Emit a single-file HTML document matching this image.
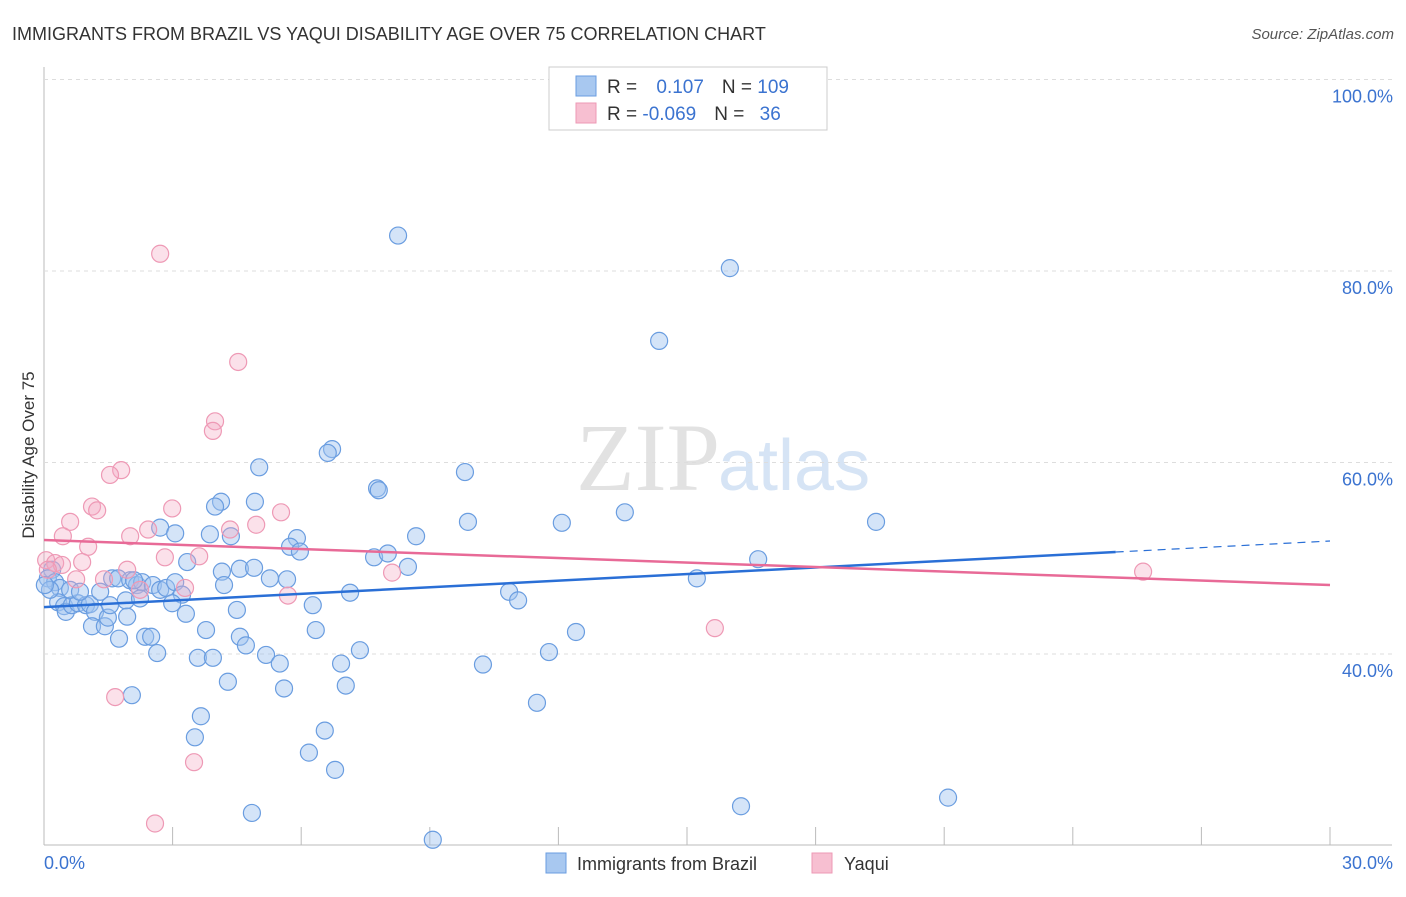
<!DOCTYPE html>
<html><head><meta charset="utf-8"><style>
body{margin:0;background:#fff;font-family:"Liberation Sans",sans-serif}
</style></head><body>
<svg id="c" width="1406" height="892" xmlns="http://www.w3.org/2000/svg">
<text x="12" y="40" font-size="18" fill="#333">IMMIGRANTS FROM BRAZIL VS YAQUI DISABILITY AGE OVER 75 CORRELATION CHART</text>
<text x="1394" y="39" font-size="15" fill="#555" font-style="italic" text-anchor="end">Source: ZipAtlas.com</text>
<text x="720" y="490" font-size="96" fill="#e2e2e2" text-anchor="end" font-family="Liberation Serif,serif">ZIP</text>
<text x="718" y="490" font-size="72" fill="#d6e4f5">atlas</text>
<text transform="translate(34,455) rotate(-90)" font-size="17" fill="#333" text-anchor="middle">Disability Age Over 75</text>
<g id="grid"></g><g id="pts"></g><g id="lines"></g>
<g>
<rect x="549" y="67" width="278" height="63" fill="#fff" stroke="#ccc"/>
<rect x="576" y="76" width="20" height="20" fill="#a8c8f0" stroke="#6a9de0"/>
<rect x="576" y="103" width="20" height="20" fill="#f7bfd1" stroke="#ee99b5"/>
<text x="607" y="93" font-size="19" fill="#333">R = <tspan fill="#3b73d0" dx="14">0.107</tspan><tspan fill="#333" dx="18">N = </tspan><tspan fill="#3b73d0">109</tspan></text>
<text x="607" y="120" font-size="19" fill="#333">R = <tspan fill="#3b73d0">-0.069</tspan><tspan fill="#333" dx="18">N = </tspan><tspan fill="#3b73d0" dx="10">36</tspan></text>
</g>
<g>
<rect x="546" y="853" width="20" height="20" fill="#a8c8f0" stroke="#6a9de0"/>
<text x="577" y="870" font-size="18" fill="#333">Immigrants from Brazil</text>
<rect x="812" y="853" width="20" height="20" fill="#f7bfd1" stroke="#ee99b5"/>
<text x="844" y="870" font-size="18" fill="#333">Yaqui</text>
</g>
</svg>
<script>
const yTicks=[40,60,80,100];
const xTickVals=[0,3,6,9,12,15,18,21,24,27,30];
const xLabels=["0.0%","30.0%"];
const blueX=[8.26,16.0,14.35,6.72,6.62,5.02,9.82,7.77,7.81,4.13,3.99,4.92,13.55,9.89,12.08,19.41,2.71,3.06,3.87,4.36,5.9,8.68,5.74,5.97,7.7,8.02,16.66,3.34,8.49,4.15,4.57,4.9,5.27,5.67,15.23,0.19,0.09,0.26,0.37,0.33,0.47,0.51,0.65,0.79,0.98,1.07,1.19,1.12,1.42,1.49,1.59,1.73,1.91,1.94,2.01,2.17,2.29,2.54,2.71,2.85,3.06,3.22,2.99,3.31,3.78,1.75,2.36,2.5,2.64,3.59,3.94,4.5,4.2,4.57,4.71,5.18,5.5,4.29,2.05,5.6,6.27,6.34,7.14,7.37,6.93,7.04,6.55,6.18,6.79,3.66,3.52,4.85,9.07,10.24,11.5,11.78,12.41,10.85,11.06,16.26,21.09,2.1,1.31,0.61,0.84,1.54,2.24,0.14,0.02];
const blueY=[83.7,80.3,72.7,61.4,61.0,59.5,59.0,57.3,57.1,55.9,55.4,55.9,54.8,53.8,53.7,53.8,53.2,52.6,52.5,52.3,52.1,52.3,51.2,50.7,50.1,50.5,49.9,49.6,49.1,48.6,48.9,49.0,47.9,47.8,47.9,48.8,47.9,47.5,46.9,45.4,45.0,44.4,45.1,45.3,45.1,45.2,44.4,42.9,42.9,43.8,47.9,47.9,45.6,43.9,47.7,47.2,47.5,47.2,46.7,46.9,47.5,46.2,45.3,44.2,42.5,41.6,41.8,41.8,40.1,39.6,39.6,44.6,47.2,41.8,40.9,39.9,39.0,37.1,35.7,36.4,45.1,42.5,46.4,40.4,39.0,36.7,32.0,29.7,27.9,33.5,31.3,23.4,20.6,38.9,34.9,40.2,42.3,46.5,45.6,24.1,25.0,47.7,46.5,46.7,46.5,45.1,45.8,46.7,47.2];
const pinkX=[2.71,4.53,3.99,3.94,1.8,1.54,1.12,1.24,0.61,2.99,5.53,4.95,4.34,2.43,2.01,0.44,1.03,3.62,2.82,0.05,0.26,0.42,0.89,1.4,0.75,1.94,2.24,3.29,5.69,8.12,25.64,15.65,1.66,3.5,2.59,0.09];
const pinkY=[81.8,70.5,64.3,63.3,59.2,58.7,55.4,55.0,53.8,55.2,54.8,53.5,53.0,53.0,52.3,52.3,51.2,50.2,50.1,49.8,49.5,49.3,49.6,47.8,47.8,48.8,46.7,46.9,46.1,48.5,48.6,42.7,35.5,28.7,22.3,48.8];
const blueTrend=[44.9,50.65,51.8];
const pinkTrend=[51.9,47.2];
const NS="http://www.w3.org/2000/svg";
const X=v=>44+v*1286/30, Y=v=>654-(v-40)*9.575;
function mk(p,t,a){const e=document.createElementNS(NS,t);for(const k in a)e.setAttribute(k,a[k]);p.appendChild(e);return e;}
const g=document.getElementById('grid');
const ax1=mk(g,'line',{x1:44,y1:67,x2:44,y2:845,stroke:'#bbb'});


const ax2=mk(g,'line',{x1:44,y1:845,x2:1392,y2:845,stroke:'#bbb'});


yTicks.forEach(v=>{const l=mk(g,'line',{x1:44,x2:1392,y1:Y(v),y2:Y(v),stroke:'#ddd','stroke-dasharray':'4,4'});


const t=mk(g,'text',{x:1393,y:Y(v)+23,'font-size':18,fill:'#3b73d0','text-anchor':'end'});t.textContent=v.toFixed(1)+'%';

});
xTickVals.forEach(v=>{if(v===0)return;const l=mk(g,'line',{x1:X(v),x2:X(v),y1:827,y2:845,stroke:'#bbb'});

});
const t0=mk(g,'text',{x:44,y:869,'font-size':18,fill:'#3b73d0'});t0.textContent=xLabels[0];


const t1=mk(g,'text',{x:1393,y:869,'font-size':18,fill:'#3b73d0','text-anchor':'end'});t1.textContent=xLabels[1];


const p=document.getElementById('pts');
blueX.forEach((v,i)=>{const c=mk(p,'circle',{cx:X(v),cy:Y(blueY[i]),r:8.5,fill:'rgba(160,196,240,0.45)',stroke:'#6a9de0','stroke-width':1.2});

});
pinkX.forEach((v,i)=>{const c=mk(p,'circle',{cx:X(v),cy:Y(pinkY[i]),r:8.5,fill:'rgba(244,170,195,0.35)',stroke:'#ee99b5','stroke-width':1.2});

});
const L=document.getElementById('lines');
const b1=mk(L,'line',{x1:X(0),y1:Y(blueTrend[0]),x2:X(25),y2:Y(blueTrend[1]),stroke:'#2a6fd6','stroke-width':2.5});


const b2=mk(L,'line',{x1:X(25),y1:Y(blueTrend[1]),x2:X(30),y2:Y(blueTrend[2]),stroke:'#2a6fd6','stroke-width':1.2,'stroke-dasharray':'8,6'});


const pl=mk(L,'line',{x1:X(0),y1:Y(pinkTrend[0]),x2:X(30),y2:Y(pinkTrend[1]),stroke:'#e86a97','stroke-width':2.5});


</script>
</body></html>
